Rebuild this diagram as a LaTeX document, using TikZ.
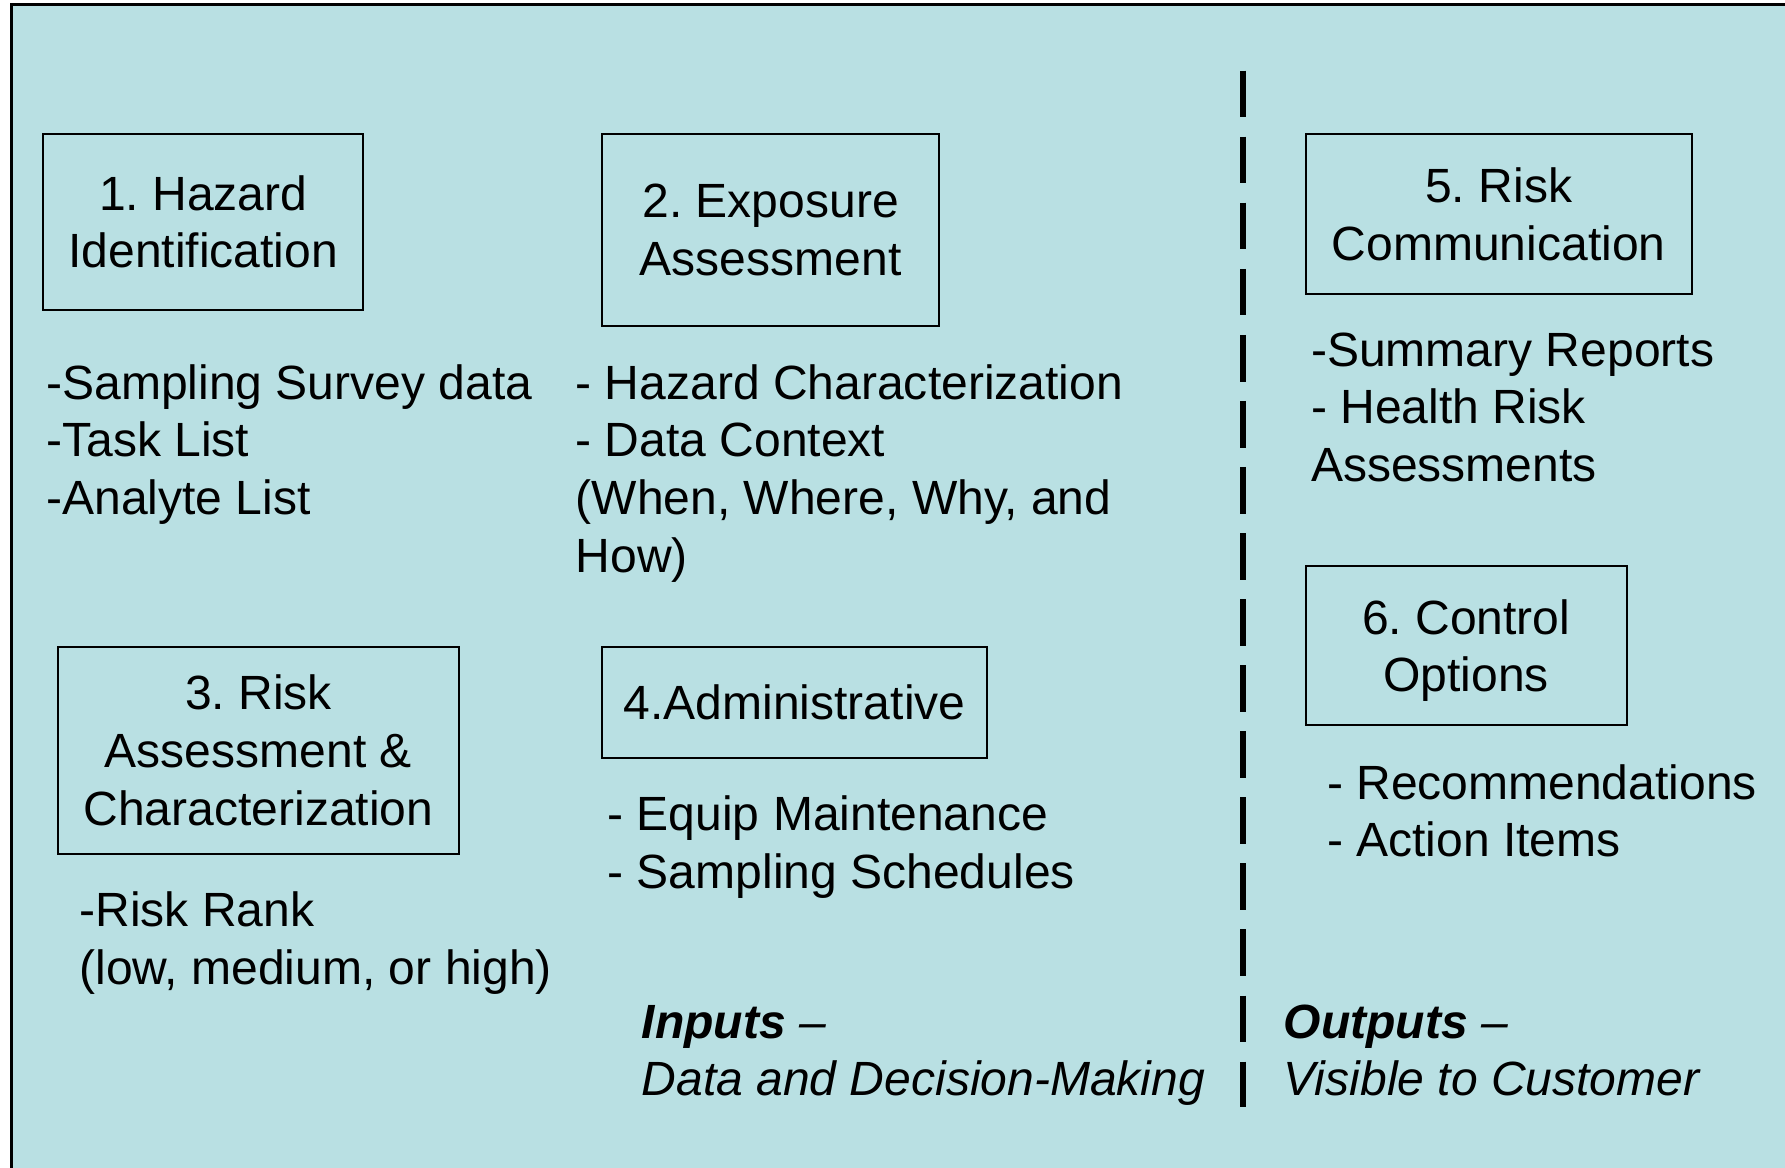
\documentclass[tikz,border=0pt]{standalone}
\usepackage{fontspec}
\setmainfont{Liberation Sans}
\usetikzlibrary{positioning}
\definecolor{panelfill}{RGB}{185,224,227}

\begin{document}
\begin{tikzpicture}[x=0.01cm, y=-0.01cm,
    every node/.style={font=\fontsize{12}{14.4}\selectfont\frenchspacing},
    stagebox/.style={draw, line width=0.5pt, align=center, inner sep=0pt},
    itemtext/.style={anchor=base west, align=left, inner sep=0pt}]
    \useasboundingbox (0,0) rectangle (1568,1026);
    \draw[fill=panelfill, line width=0.75pt] (10,4) rectangle (1600,1060);
    % divider between inputs and outputs
    \coordinate (divtop) at (1092,62);
    \coordinate (divbot) at (1092,972);
    \draw[line width=1.5pt, dash pattern=on 0.41cm off 0.17cm] (divtop) -- (divbot);
    % stages
    \node[stagebox, minimum width=2.81cm, minimum height=1.54cm] (hazard) at (178.5,195) {1. Hazard\\Identification};
    \node[stagebox, minimum width=2.96cm, minimum height=1.68cm] (exposure) at (677,202) {2. Exposure\\Assessment};
    \node[stagebox, minimum width=3.52cm, minimum height=1.82cm] (risk) at (227,659) {3. Risk\\Assessment \&\\Characterization};
    \node[stagebox, minimum width=3.38cm, minimum height=0.98cm] (admin) at (698,617) {4.Administrative};
    \node[stagebox, minimum width=3.39cm, minimum height=1.40cm] (comm) at (1316.5,188) {5. Risk\\Communication};
    \node[stagebox, minimum width=2.82cm, minimum height=1.40cm, text depth=-0.1cm] (control) at (1288,567) {6. Control\\Options};
    % item lists (placed at the baseline of their last line)
    \node[itemtext] (hazarditems) at (40,452) {-Sampling Survey data\\-Task List\\-Analyte List};
    \node[itemtext] (exposureitems) at (505,502.5) {- Hazard Characterization\\- Data Context\\(When, Where, Why, and\\How)};
    \node[itemtext] (riskitems) at (69,864.5) {-Risk Rank\\(low, medium, or high)};
    \node[itemtext] (adminitems) at (533,780.5) {- Equip Maintenance\\- Sampling Schedules};
    \node[itemtext] (commitems) at (1151,423) {-Summary Reports\\- Health Risk\\Assessments};
    \node[itemtext] (controlitems) at (1165,752.5) {- Recommendations\\- Action Items};
    % column captions
    \node[itemtext] (inputs) at (563,962.5) {\textbf{\textit{Inputs}}\textit{ –}\\\textit{Data and Decision-Making}};
    \node[itemtext] (outputs) at (1127,962.5) {\textbf{\textit{Outputs}}\textit{ –}\\\textit{Visible to Customer}};
\end{tikzpicture}
\end{document}
